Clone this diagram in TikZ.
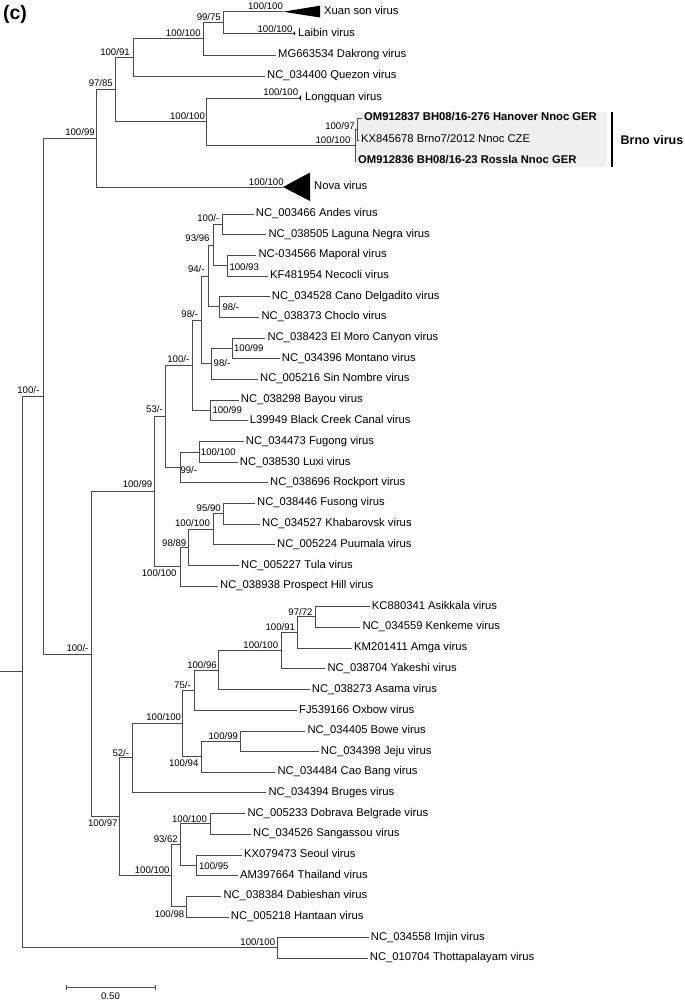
\documentclass[tikz,border=0pt]{standalone}
\usepackage{fontspec}
\setmainfont{Liberation Sans}
\definecolor{BranchGray}{HTML}{4A4A4A}
\definecolor{BoxGray}{HTML}{F0F0F0}
\begin{document}
\begin{tikzpicture}[x=1pt, y=-1pt,
  br/.style={draw=BranchGray, line width=0.8pt},
  leaf/.style={anchor=west, inner xsep=2pt, inner ysep=0pt, text height=1.5ex, text depth=0.4ex, font=\fontsize{11.25}{13}\selectfont},
  leafb/.style={leaf, font=\bfseries\fontsize{11.25}{13}\selectfont},
  boot/.style={inner sep=0pt, font=\fontsize{9.6}{11}\selectfont},
  clade/.style={fill=black}
]
\useasboundingbox (0,0) rectangle (685,1001);
\node[inner sep=0pt, font=\bfseries\fontsize{19.5}{22}\selectfont] (panel) at (15,14.5) {(c)};

% Brno virus group
\fill[BoxGray] (355,112) rectangle (607,167);
\coordinate (bartop) at (612,112);
\coordinate (barbot) at (612,167);
\draw[line width=2pt] (bartop) -- (barbot);
\node[anchor=west, inner xsep=0pt, font=\bfseries\fontsize{12.5}{14}\selectfont] (brnolab) at (620.5,140) {Brno virus};

% internal nodes
\foreach \n/\x/\y in {root/22.7/671.5, a/43.3/396, j/91.7/654, b/96.7/138, c/115/89,
  d/133.3/57, f/203.3/38.7, g/223.3/22.4, e/206.7/121.5, h/355/145, i/357/129,
  ar/277.7/947.8, k/154.3/491.6, m/165.7/416.7, s/192.3/365, u/201.7/320,
  yy/208.3/275.9, z/213.3/245, aa/222.3/224.3, ab/227.7/265.5, ac/219/306.8,
  w/211/363.7, xx/232.3/348.3, v/210/410.3, r/180/467.7, t/199/452,
  n/180/566.5, o/188.7/547.5, p/213/529, q/223.3/513.5,
  l/119.3/816.6, ad/132.3/757.7, aj/182.7/723.3, ak/194/690, am/218.3/670.1,
  an/281.7/650.5, ao/297.3/632.4, ap/315/616.8, al/201/756.7, aq/240/741.3,
  ae/171.7/875.5, af/180/844.6, ag/210/823.8, ah/196/865.3, ai/186.7/906.5}
  \coordinate (\n) at (\x,\y);
\coordinate (stem) at (0,671.5);

% collapsed clades
\coordinate (xuanT) at (283,11.7);
\coordinate (laibinT) at (293,33.3);
\coordinate (longquanT) at (299,98);
\coordinate (novaT) at (283,187);
\fill[clade] (xuanT) -- (320,5.7) -- (320,17.5) -- cycle;
\fill[clade] (laibinT) -- (295,31.3) -- (295,35.3) -- cycle;
\fill[clade] (longquanT) -- (301,95.3) -- (301,100.7) -- cycle;
\fill[clade] (novaT) -- (310,172.5) -- (310,201) -- cycle;

% tips
\foreach \n/\x/\y/\txt in {xuan/322/11.7/Xuan son virus, laibin/296/33.3/Laibin virus,
  dakrong/276/55/MG663534 Dakrong virus, quezon/265/76/NC\_034400 Quezon virus,
  longquan/303/98/Longquan virus, nova/312/187/Nova virus,
  andes/253.7/214/NC\_003466 Andes virus, laguna/266.3/234.7/NC\_038505 Laguna Negra virus,
  maporal/256.3/255/NC-034566 Maporal virus, necocli/268/276/KF481954 Necocli virus,
  cano/269.7/296.7/NC\_034528 Cano Delgadito virus, choclo/259.3/317/NC\_038373 Choclo virus,
  elmoro/265.3/338/NC\_038423 El Moro Canyon virus, montano/279.7/358.7/NC\_034396 Montano virus,
  sinnombre/258/379/NC\_005216 Sin Nombre virus, bayou/238.7/400/NC\_038298 Bayou virus,
  blackcreek/247.7/420.7/L39949 Black Creek Canal virus, fugong/243.7/441.7/NC\_034473 Fugong virus,
  luxi/237.7/462.3/NC\_038530 Luxi virus, rockport/268/482.7/NC\_038696 Rockport virus,
  fusong/255/503/NC\_038446 Fusong virus, khabarovsk/260/524/NC\_034527 Khabarovsk virus,
  puumala/275/544.7/NC\_005224 Puumala virus, tula/239/565.3/NC\_005227 Tula virus,
  prospect/218/586/NC\_038938 Prospect Hill virus, asikkala/369.7/606.7/KC880341 Asikkala virus,
  kenkeme/360.3/627/NC\_034559 Kenkeme virus, amga/352/648/KM201411 Amga virus,
  yakeshi/325.3/668.7/NC\_038704 Yakeshi virus, asama/309.7/689.7/NC\_038273 Asama virus,
  oxbow/297/710.3/FJ539166 Oxbow virus, bowe/305.3/731/NC\_034405 Bowe virus,
  jeju/318.7/751.7/NC\_034398 Jeju virus, caobang/275.3/772/NC\_034484 Cao Bang virus,
  bruges/266.3/792.7/NC\_034394 Bruges virus, dobrava/245.3/813.7/NC\_005233 Dobrava Belgrade virus,
  sangassou/251/834/NC\_034526 Sangassou virus, seoul/242/855/KX079473 Seoul virus,
  thailand/238/875.7/AM397664 Thailand virus, dabieshan/221.3/896/NC\_038384 Dabieshan virus,
  hantaan/228.7/917/NC\_005218 Hantaan virus, imjin/368.7/937.7/NC\_034558 Imjin virus,
  thottapalayam/367.7/958/NC\_010704 Thottapalayam virus}
  \node[leaf] (\n) at (\x,\y) {\txt};
\node[leafb] (hanover) at (362,118) {OM912837 BH08/16-276 Hanover Nnoc GER};
\node[leaf] (brno7) at (359,140) {KX845678 Brno7/2012 Nnoc CZE};
\node[leafb] (rossla) at (356,161) {OM912836 BH08/16-23 Rossla Nnoc GER};

% branches
\draw[br] (stem) -- (root);
\foreach \p/\c in {root/a, root/ar, a/b, a/j, b/c, b/novaT, c/d, c/e, d/f, d/quezon,
  f/g, f/dakrong, g/xuanT, g/laibinT, e/longquanT, e/h, h/i, h/rossla, i/hanover, i/brno7,
  j/k, j/l, k/m, k/n, m/s, m/r, s/u, s/v, u/yy, u/w, yy/z, yy/ac, z/aa, z/ab,
  aa/andes, aa/laguna, ab/maporal, ab/necocli, ac/cano, ac/choclo, w/xx, w/sinnombre,
  xx/elmoro, xx/montano, v/bayou, v/blackcreek, r/t, r/rockport, t/fugong, t/luxi,
  n/o, n/prospect, o/p, o/tula, p/q, p/puumala, q/fusong, q/khabarovsk,
  l/ad, l/ae, ad/aj, ad/bruges, aj/ak, aj/al, ak/am, ak/oxbow, am/an, am/asama,
  an/ao, an/yakeshi, ao/ap, ao/amga, ap/asikkala, ap/kenkeme, al/aq, al/caobang,
  aq/bowe, aq/jeju, ae/af, ae/ai, af/ag, af/ah, ag/dobrava, ag/sangassou,
  ah/seoul, ah/thailand, ai/dabieshan, ai/hantaan, ar/imjin, ar/thottapalayam}
  \draw[br] (\p) |- (\c);

% support values
\foreach \x/\y/\bs/\ml [count=\i] in {265.5/5.7/100/100, 275/29.3/100/100, 208.8/16.7/99/75,
  183.3/33.3/100/100, 115/52.3/100/91, 100.8/83.3/97/85, 80/131.7/100/99, 187.5/115.7/100/100,
  280.8/91.7/100/100, 340/125.7/100/97, 333/140/100/100, 266.3/181.7/100/100,
  28.3/390/100/-, 208.3/218.3/100/-, 197.5/238.3/93/96, 244.2/266.7/100/93, 196.3/269/94/-,
  230.8/307.3/98/-, 189.7/314/98/-, 248.8/348.3/100/99, 222/363.3/98/-, 178.3/359.3/100/-,
  227.2/410/100/99, 154.5/409/53/-, 218.3/451.7/100/100, 188.8/470/99/-, 137.5/484/100/99,
  208.7/508.3/95/90, 192.5/522.7/100/100, 174.2/542.7/98/89, 159.2/573.3/100/100,
  300.5/611.7/97/72, 280.3/626.7/100/91, 260.8/645/100/100, 77.5/648.3/100/-,
  202/665/100/96, 182.5/685/75/-, 163.7/717.3/100/100, 223.3/736/100/99, 120.8/752.7/52/-,
  183.7/762.7/100/94, 189.5/819/100/100, 102.8/823.3/100/97, 165.8/839/93/62,
  213.8/865.7/100/95, 152.2/870/100/100, 169.5/914/100/98, 257.8/942.3/100/100}
  \node[boot] (bs\i) at (\x,\y) {\bs/\ml};

% scale bar
\coordinate (sbl) at (66,987);
\coordinate (sbr) at (155,987);
\draw[br] (sbl) -- (sbr);
\draw[br] ([yshift=2.5pt]sbl) -- ([yshift=-2.5pt]sbl);
\draw[br] ([yshift=2.5pt]sbr) -- ([yshift=-2.5pt]sbr);
\node[boot] (sblab) at (110.5,996) {0.50};
\end{tikzpicture}
\end{document}
